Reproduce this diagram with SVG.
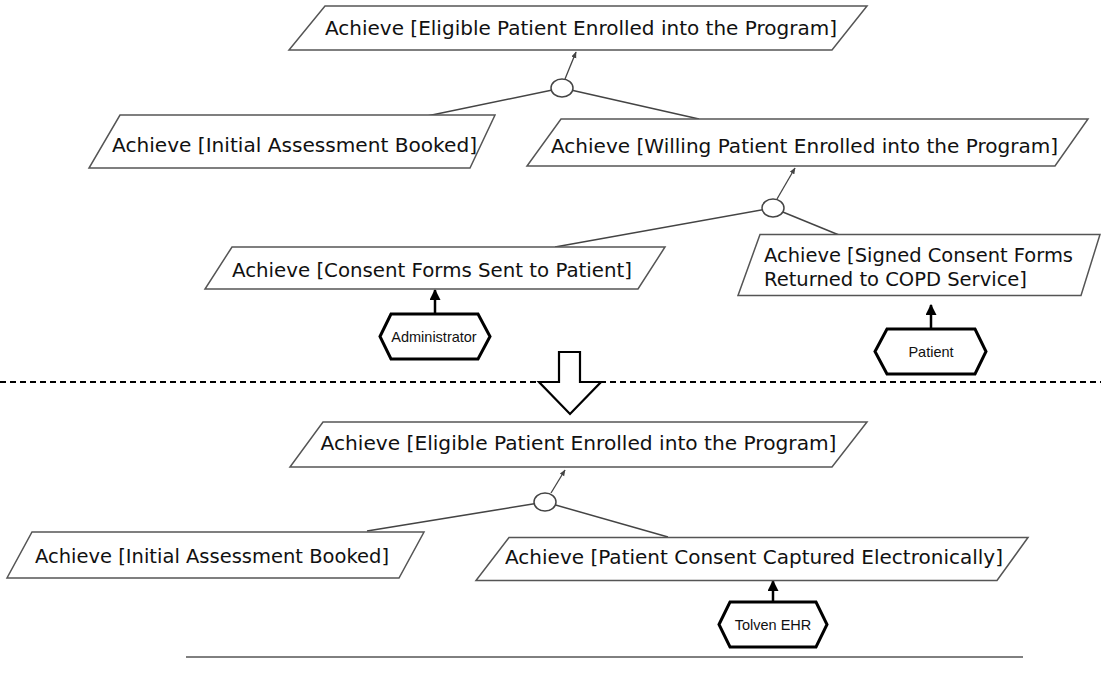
<svg xmlns="http://www.w3.org/2000/svg" width="1101" height="686" viewBox="0 0 1101 686">
  <style>
    .goal { fill: #ffffff; stroke: #555555; stroke-width: 1.5; }
    .glabel { font-family: "DejaVu Sans", "Liberation Sans", sans-serif; font-size: 19.8px; fill: #111111; }
    .actor { fill: #ffffff; stroke: #000000; stroke-width: 3; stroke-linejoin: miter; }
    .alabel { font-family: "Liberation Sans", Arial, sans-serif; font-size: 14.5px; fill: #111111; text-anchor: middle; }
    .link { fill: none; stroke: #444444; stroke-width: 1.5; }
    .contrib { fill: none; stroke: #444444; stroke-width: 1.3; marker-end: url(#tip); }
    .andnode { fill: #ffffff; stroke: #444444; stroke-width: 1.5; }
    .resp { fill: none; stroke: #000000; stroke-width: 2.5; marker-end: url(#resp-tip); }
  </style>
  <defs>
    <marker id="tip" viewBox="0 0 10 10" refX="9" refY="5" markerWidth="5" markerHeight="5" orient="auto" markerUnits="strokeWidth">
      <path d="M0,1 L10,5 L0,9 z" fill="#444444"/>
    </marker>
    <marker id="resp-tip" viewBox="0 0 10 10" refX="9" refY="5" markerWidth="4.4" markerHeight="4.4" orient="auto" markerUnits="strokeWidth">
      <path d="M0,0 L10,5 L0,10 z" fill="#000000"/>
    </marker>
  </defs>
  <rect width="1101" height="686" fill="#ffffff"/>

  <!-- separator between the two models -->
  <line x1="0" y1="382" x2="1101" y2="382" stroke="#000000" stroke-width="2" stroke-dasharray="6,4"/>
  <polygon id="transform-arrow" points="559,352 580,352 580,382 601,382 570,414 539,382 559,382" fill="#ffffff" stroke="#000000" stroke-width="2.2" stroke-linejoin="miter"/>
  <line x1="186" y1="657" x2="1023" y2="657" stroke="#000000" stroke-width="1"/>

  <!-- connectors -->
  <g id="connectors">
    <!-- upper model -->
    <line class="link" x1="562" y1="88" x2="427" y2="116"/>
    <line class="link" x1="562" y1="88" x2="699" y2="119"/>
    <line class="contrib" x1="565" y1="79" x2="576" y2="52"/>
    <line class="link" x1="773" y1="208" x2="555" y2="247"/>
    <line class="link" x1="773" y1="208" x2="839" y2="235"/>
    <line class="contrib" x1="777" y1="199" x2="795" y2="168"/>
    <line class="resp" x1="435" y1="314" x2="435" y2="290"/>
    <line class="resp" x1="931" y1="329" x2="931" y2="305"/>
    <!-- lower model -->
    <line class="link" x1="545" y1="502" x2="367" y2="531"/>
    <line class="link" x1="545" y1="502" x2="668" y2="537"/>
    <line class="contrib" x1="551" y1="493" x2="565" y2="470"/>
    <line class="resp" x1="773" y1="602" x2="773" y2="581"/>
    <!-- AND refinement nodes -->
    <ellipse class="andnode" cx="562" cy="88" rx="11" ry="9"/>
    <ellipse class="andnode" cx="773" cy="208" rx="11" ry="9"/>
    <ellipse class="andnode" cx="545" cy="502" rx="11" ry="9"/>
  </g>

  <!-- upper model goals -->
  <g id="goal-eligible-enrolled">
    <polygon class="goal" points="325,6 867,6 832,50 289,50"/>
    <text class="glabel" x="325" y="34.5" textLength="512" lengthAdjust="spacingAndGlyphs">Achieve [Eligible Patient Enrolled into the Program]</text>
  </g>
  <g id="goal-assessment-booked">
    <polygon class="goal" points="120,115 495,115 470,168 89,168"/>
    <text class="glabel" x="112" y="151.5" textLength="365" lengthAdjust="spacingAndGlyphs">Achieve [Initial Assessment Booked]</text>
  </g>
  <g id="goal-willing-enrolled">
    <polygon class="goal" points="561,119 1088,119 1055,166 527,166"/>
    <text class="glabel" x="551" y="153" textLength="507" lengthAdjust="spacingAndGlyphs">Achieve [Willing Patient Enrolled into the Program]</text>
  </g>
  <g id="goal-forms-sent">
    <polygon class="goal" points="232,247 665,247 638,289 205,289"/>
    <text class="glabel" x="232" y="277" textLength="400" lengthAdjust="spacingAndGlyphs">Achieve [Consent Forms Sent to Patient]</text>
  </g>
  <g id="goal-forms-returned">
    <polygon class="goal" points="760,234.5 1100,234.5 1081,295.5 738,295.5"/>
    <text class="glabel" x="764" y="261.5" textLength="309" lengthAdjust="spacingAndGlyphs">Achieve [Signed Consent Forms</text>
    <text class="glabel" x="764" y="285.5" textLength="263" lengthAdjust="spacingAndGlyphs">Returned to COPD Service]</text>
  </g>
  <g id="actor-administrator">
    <polygon class="actor" points="380,336.5 391,314 478,314 490,336.5 478,359 391,359"/>
    <text class="alabel" x="434" y="341.7">Administrator</text>
  </g>
  <g id="actor-patient">
    <polygon class="actor" points="875,351.5 887,329 975,329 986,351.5 975,374 887,374"/>
    <text class="alabel" x="931" y="356.7">Patient</text>
  </g>

  <!-- lower model goals -->
  <g id="goal-eligible-enrolled-2">
    <polygon class="goal" points="323,422 867,422 832,467 290,467"/>
    <text class="glabel" x="320.5" y="449.5" textLength="516" lengthAdjust="spacingAndGlyphs">Achieve [Eligible Patient Enrolled into the Program]</text>
  </g>
  <g id="goal-assessment-booked-2">
    <polygon class="goal" points="32,532 424,532 399,578 7,578"/>
    <text class="glabel" x="35" y="562.5" textLength="354" lengthAdjust="spacingAndGlyphs">Achieve [Initial Assessment Booked]</text>
  </g>
  <g id="goal-consent-captured">
    <polygon class="goal" points="509,537.5 1028,537.5 997,580.5 476,580.5"/>
    <text class="glabel" x="505" y="564" textLength="498" lengthAdjust="spacingAndGlyphs">Achieve [Patient Consent Captured Electronically]</text>
  </g>
  <g id="actor-tolven">
    <polygon class="actor" points="719,624.5 730,602 816,602 827,624.5 816,647 730,647"/>
    <text class="alabel" x="773" y="629.7">Tolven EHR</text>
  </g>
</svg>
